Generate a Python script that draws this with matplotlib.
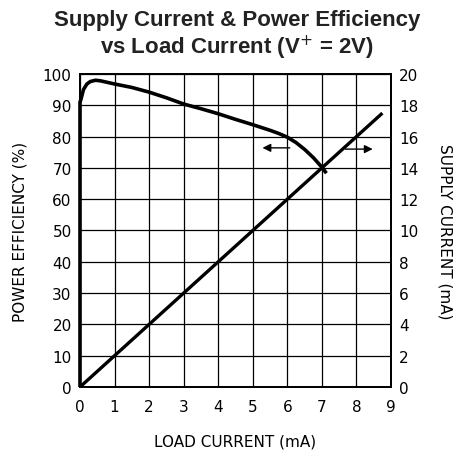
import matplotlib
matplotlib.use("Agg")
import matplotlib.pyplot as plt
from matplotlib import font_manager

# efficiency curve (left axis)
eff_load = [0, 0, 0.03, 0.1, 0.2, 0.3, 0.45, 0.6, 1.0, 1.5, 2.0, 2.5, 3.0, 3.5, 4.0, 4.5, 5.0, 5.5, 5.75, 6.0, 6.25, 6.5, 6.75, 7.0, 7.13]
eff_pct = [0, 91, 92, 95, 96.8, 97.6, 98, 97.8, 96.8, 95.7, 94.2, 92.4, 90.4, 88.9, 87.3, 85.5, 83.8, 82.0, 81.0, 79.8, 78.1, 75.9, 73.3, 70.2, 68.3]

# supply current line (right axis)
sup_load = [0, 8.75]
sup_ma = [0, 17.5]

x_ticks = list(range(0, 10))
left_ticks = list(range(0, 101, 10))
right_ticks = list(range(0, 21, 2))

names = {f.name for f in font_manager.fontManager.ttflist}
tick_font = "Liberation Sans Narrow" if "Liberation Sans Narrow" in names else "DejaVu Sans"

fig = plt.figure(figsize=(4.67, 4.64), dpi=100)
ax = fig.add_axes([0.1713, 0.1638, 0.666, 0.6746])
ax2 = ax.twinx()
# keep the efficiency axes on top so its curve along x=0 is not hidden
ax.set_zorder(2)
ax.patch.set_visible(False)

ax.set_xlim(0, 9)
ax.set_ylim(0, 100)
ax2.set_ylim(0, 20)
ax.set_xticks(x_ticks)
ax.set_yticks(left_ticks)
ax2.set_yticks(right_ticks)

ax.grid(True, color="black", linewidth=0.9)
ax.tick_params(axis="y", length=0, pad=6, labelsize=11)
ax.tick_params(axis="x", length=0, pad=9, labelsize=11)
ax2.tick_params(length=0, pad=6, labelsize=11)
for lab in ax.get_xticklabels() + ax.get_yticklabels() + ax2.get_yticklabels():
    lab.set_family(tick_font)

for a in (ax, ax2):
    for s in a.spines.values():
        s.set_linewidth(1.3)

ax.plot(eff_load, eff_pct, color="black", linewidth=2.6, solid_capstyle="butt",
        solid_joinstyle="round", clip_on=False, zorder=5)
ax2.plot(sup_load, sup_ma, color="black", linewidth=2.4, solid_capstyle="butt", zorder=5)

# arrows showing which axis each curve belongs to
ax.annotate("", xy=(5.2, 76.4), xytext=(6.15, 76.4),
            arrowprops=dict(arrowstyle="-|>", color="black", lw=1.0, mutation_scale=12))
ax.annotate("", xy=(8.55, 76.0), xytext=(7.6, 76.0),
            arrowprops=dict(arrowstyle="-|>", color="black", lw=1.0, mutation_scale=12))

ax.set_xlabel("LOAD CURRENT (mA)", family=tick_font, fontsize=11, labelpad=14)
ax.set_ylabel("POWER EFFICIENCY (%)", family=tick_font, fontsize=11, labelpad=11)
ax2.set_ylabel("SUPPLY CURRENT (mA)", family=tick_font, fontsize=11, rotation=270, labelpad=24)

fig.suptitle("Supply Current & Power Efficiency\nvs Load Current (V$^{+}$ = 2V)",
             x=0.508, y=0.978, family="Liberation Sans", fontweight="bold", fontsize=16,
             color="#222222", linespacing=1.1)

fig.savefig("out.png", dpi=100)
